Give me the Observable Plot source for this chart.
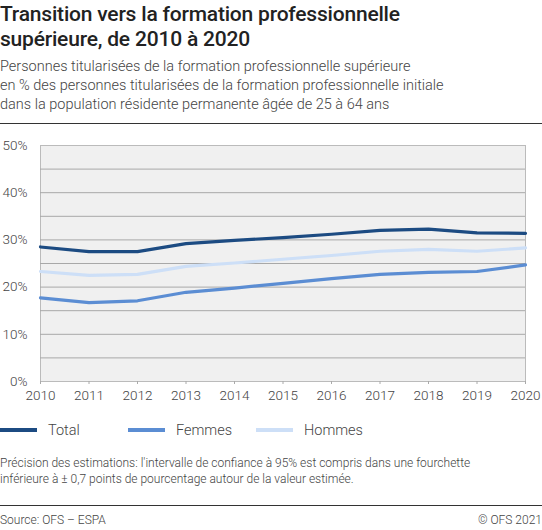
<!DOCTYPE html>
<html>
<head>
<meta charset="utf-8">
<script src="https://cdn.jsdelivr.net/npm/d3@7"></script>
<script src="https://cdn.jsdelivr.net/npm/@observablehq/plot@0.6"></script>
<style>
  body { margin: 0; background: #fff; font-family: Roboto, "Noto Sans", sans-serif; color: #333; }
  #wrap { width: 542px; }
  h1 { font-size: 21px; font-weight: 500; line-height: 25px; margin: 2px 0 0 0; color: #222; letter-spacing: -0.2px; }
  .sub { font-size: 14.5px; font-weight: 300; line-height: 19px; margin-top: 5px; color: #444; }
  .rule { border-top: 1px solid #333; margin-top: 9px; }
  .legend { display: flex; font-size: 14.5px; font-weight: 300; color: #444; height: 22px; align-items: center; margin-top: 5px; }
  .item { display: flex; align-items: center; width: 128px; }
  .sw { width: 37px; height: 4px; margin-right: 11px; }
  .note { font-size: 12px; font-weight: 300; line-height: 16px; color: #444; margin-top: 14px; }
  .foot { display: flex; justify-content: space-between; font-size: 12px; font-weight: 300; color: #444; margin-top: 18px; border-top: 1px solid #333; padding-top: 7px; }
</style>
</head>
<body>
<div id="wrap">
  <h1>Transition vers la formation professionnelle<br>supérieure, de 2010 à 2020</h1>
  <div class="sub">Personnes titularisées de la formation professionnelle supérieure<br>en % des personnes titularisées de la formation professionnelle initiale<br>dans la population résidente permanente âgée de 25 à 64 ans</div>
  <div class="rule"></div>
  <div id="chart"></div>
  <div class="legend" id="legend"></div>
  <div class="note">Précision des estimations: l'intervalle de confiance à 95% est compris dans une fourchette<br>inférieure à ± 0,7 points de pourcentage autour de la valeur estimée.</div>
  <div class="foot"><span>Source: OFS – ESPA</span><span>© OFS 2021</span></div>
</div>
<script>
const annees = [2010, 2011, 2012, 2013, 2014, 2015, 2016, 2017, 2018, 2019, 2020]
const total = [28.5, 27.5, 27.5, 29.2, 29.9, 30.5, 31.2, 32.0, 32.3, 31.5, 31.4]
const femmes = [17.7, 16.7, 17.1, 18.9, 19.8, 20.8, 21.8, 22.7, 23.1, 23.3, 24.7]
const hommes = [23.3, 22.5, 22.7, 24.4, 25.1, 25.9, 26.7, 27.6, 28.0, 27.6, 28.3]
const series = ['Total', 'Femmes', 'Hommes']
const couleurs = ['#1c4b82', '#5b8dd3', '#cddff7']

const donnees = []
annees.forEach((a, i) => {
  donnees.push({annee: a, serie: 'Total', valeur: total[i]})
  donnees.push({annee: a, serie: 'Femmes', valeur: femmes[i]})
  donnees.push({annee: a, serie: 'Hommes', valeur: hommes[i]})
})

const chart = Plot.plot({
  width: 542,
  height: 290,
  marginTop: 21,
  marginBottom: 33,
  marginLeft: 40,
  marginRight: 17,
  style: {fontFamily: 'Roboto, sans-serif', fontSize: '13.5px', fontWeight: 300, color: '#444', background: 'transparent'},
  x: {type: 'linear', domain: [2010, 2020], label: null},
  y: {type: 'linear', domain: [0, 50], label: null},
  color: {domain: series, range: couleurs},
  marks: [
    Plot.frame({fill: '#f0f0f0', stroke: '#bbb'}),
    Plot.ruleY(d3.range(5, 50, 5), {stroke: '#a8a8a8', strokeWidth: 1}),
    Plot.line(donnees, {x: 'annee', y: 'valeur', z: 'serie', stroke: 'serie', strokeWidth: 3.2}),
    Plot.axisX({ticks: annees, tickFormat: d => String(d), tickSize: 3, tickPadding: 6, stroke: '#aaa'}),
    Plot.axisY({ticks: [0, 10, 20, 30, 40, 50], tickFormat: d => d + '%', tickSize: 0, tickPadding: 13}),
  ],
})
d3.select('#chart').append(() => chart)

const leg = d3.select('#legend')
series.forEach((s, i) => {
  const it = leg.append('div').attr('class', 'item')
  it.append('div').attr('class', 'sw').style('background', couleurs[i])
  it.append('span').text(s)
})
</script>
</body>
</html>
